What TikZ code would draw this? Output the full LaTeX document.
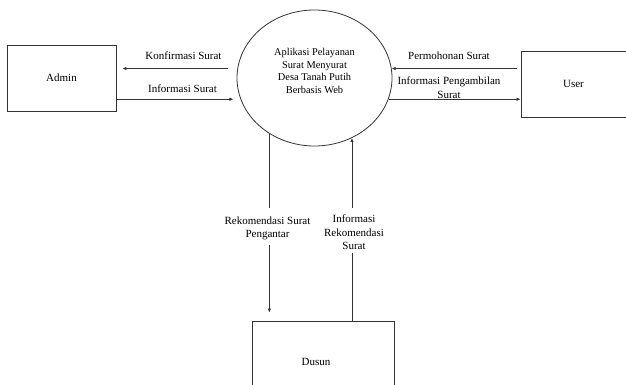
\documentclass[tikz,border=0pt]{standalone}
\usepackage{fontspec}
\setmainfont{Liberation Serif}
\usetikzlibrary{shapes.geometric,arrows.meta}

\begin{document}
\begin{tikzpicture}[x=1pt,y=-1pt]
        \tikzstyle{every node}=[font=\fontsize{11}{13.5}\selectfont, text=black]
        \tikzstyle{entity}=[draw=black!80, line width=0.8pt, rectangle]
        \tikzstyle{flow}=[draw=black!80, line width=0.8pt, -{Latex[length=4pt,width=3.5pt]}]
        \tikzstyle{plain}=[draw=black!80, line width=0.8pt]
        \tikzstyle{flowlabel}=[align=center, inner sep=3pt]

        \path[use as bounding box, clip] (0,0) rectangle (626,385);

        % entities and process
        \node (admin) [entity, minimum width=109pt, minimum height=66pt] at (61.5,78) {Admin};
        \node (user)  [entity, minimum width=105pt, minimum height=66pt] at (573.5,84) {User};
        \node (dusun) [entity, minimum width=142pt, minimum height=82pt,
                       label={[xshift=-7pt]center:Dusun}] at (323,362) {};
        \node (app)   [draw=black!80, line width=0.8pt, ellipse, minimum width=155pt, minimum height=136pt,
                       label={[align=center, yshift=7pt, font=\fontsize{10.4}{12.6}\selectfont]center:Aplikasi Pelayanan\\Surat Menyurat\\Desa Tanah Putih\\Berbasis Web}]
                       at (314.5,78) {};

        % labels
        \node (konf)    [flowlabel] at (183.5,56)  {Konfirmasi Surat};
        \node (info)    [flowlabel] at (182.5,89)  {Informasi Surat};
        \node (mohon)   [flowlabel] at (449,56)    {Permohonan Surat};
        \node (ambil)   [flowlabel] at (449,87.5)  {Informasi Pengambilan\\Surat};
        \node (rekom)   [flowlabel] at (267.5,228.5) {Rekomendasi Surat\\Pengantar};
        \node (inforek) [flowlabel] at (354,232.5) {Informasi\\Rekomendasi\\Surat};

        % flows
        \draw[flow, shorten <=9pt, shorten >=6pt] (app.173) -- (app.173 -| admin.east);
        \draw[flow, shorten >=7pt] (admin.east |- app.196) -- (app.196);
        \draw[flow, shorten <=4pt] (user.west |- app.7) -- (app.7);
        \draw[flow] (app.-16) -- (app.-16 -| user.west);

        \draw[plain, shorten >=6pt] (app.-129) -- (app.-129 |- rekom.north);
        \draw[flow, shorten <=2pt, shorten >=8pt] (rekom.south -| app.-129) -- (dusun.north -| app.-129);

        \draw[plain] (dusun.north -| app.-58) -- (inforek.south -| app.-58);
        \draw[flow, shorten <=4pt] (inforek.north -| app.-58) -- (app.-58);
\end{tikzpicture}
\end{document}
